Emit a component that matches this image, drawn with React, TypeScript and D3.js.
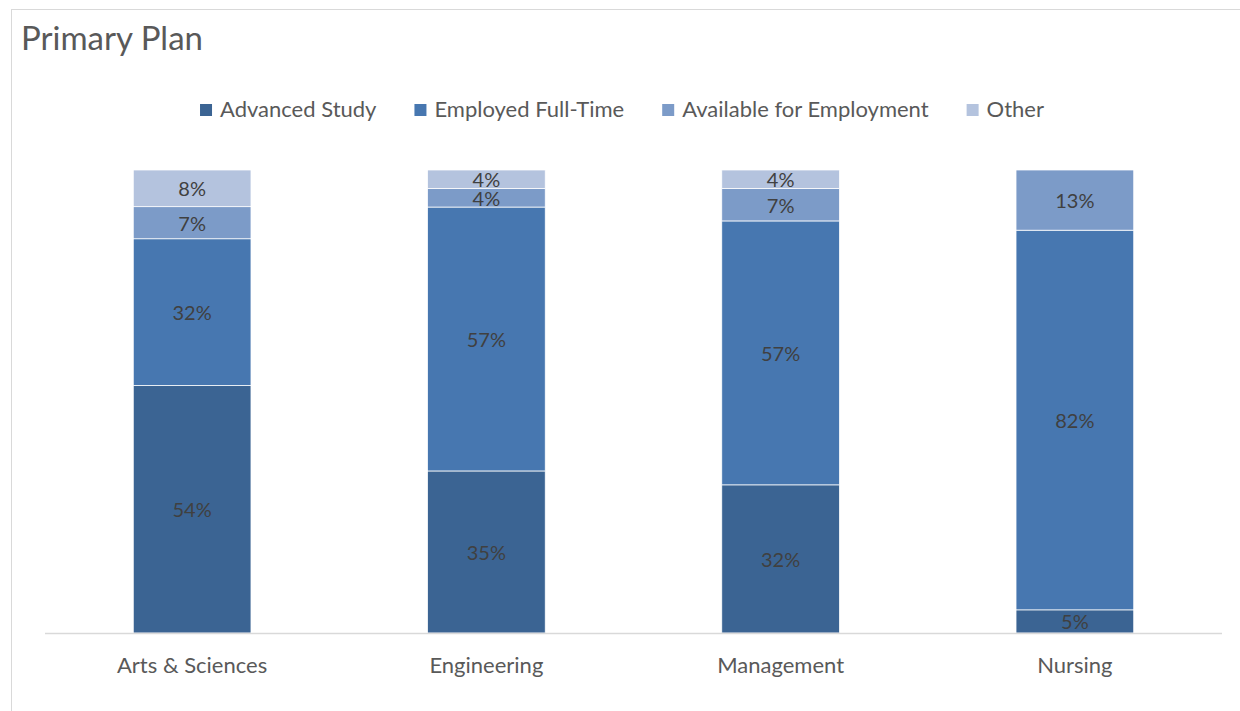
import React, { useEffect, useRef } from "react";
import * as d3 from "d3";

const categories = ["Arts & Sciences", "Engineering", "Management", "Nursing"];
const seriesNames = ["Advanced Study", "Employed Full-Time", "Available for Employment", "Other"];
const advancedStudy = [54, 35, 32, 5];
const employedFullTime = [32, 57, 57, 82];
const availableForEmployment = [7, 4, 7, 13];
const other = [8, 4, 4, 0];
const seriesColors = ["#3B6493", "#4777B0", "#7C9BC8", "#B4C3DE"];
const chartTitle = "Primary Plan";

const W = 1240;
const H = 711;
const FONT = "Lato, 'Open Sans', sans-serif";

export default function App() {
  const ref = useRef<SVGSVGElement>(null);

  useEffect(() => {
    const svg = d3.select(ref.current);
    svg.selectAll("*").remove();

    const values = [advancedStudy, employedFullTime, availableForEmployment, other];
    const rows = categories.map((c, i) => {
      const r: any = { cat: c };
      seriesNames.forEach((s, j) => (r[s] = values[j][i]));
      return r;
    });

    const stack = d3.stack<any>().keys(seriesNames).offset(d3.stackOffsetExpand);
    const stacked = stack(rows);

    const left = 45, right = 1222, top = 170, bottom = 633;
    const x = d3.scaleBand().domain(categories).range([left, right]).paddingInner(0.6).paddingOuter(0.3);
    const y = d3.scaleLinear().domain([0, 1]).range([bottom, top]);

    // frame
    svg.append("rect").attr("x", 11.5).attr("y", 9.5).attr("width", W + 20).attr("height", H + 20)
      .attr("fill", "#fff").attr("stroke", "#d9d9d9").attr("stroke-width", 1);

    // title
    svg.append("text").attr("x", 21).attr("y", 50).attr("font-family", FONT).attr("font-size", 33)
      .attr("fill", "#595959").text(chartTitle);

    // bars
    const g = svg.append("g");
    stacked.forEach((layer, j) => {
      const lg = g.append("g");
      layer.forEach((d, i) => {
        const raw = values[j][i];
        if (raw <= 0) return;
        const x0 = x(categories[i])!;
        const y0 = y(d[1]);
        const h = y(d[0]) - y(d[1]);
        lg.append("rect").attr("x", x0).attr("y", y0).attr("width", x.bandwidth()).attr("height", h)
          .attr("fill", seriesColors[j]).attr("stroke", "#fff").attr("stroke-width", 0.75);
      });
    });

    // axis line
    svg.append("line").attr("x1", left).attr("x2", right).attr("y1", bottom + 0.5).attr("y2", bottom + 0.5)
      .attr("stroke", "#d9d9d9").attr("stroke-width", 1.5);

    // data labels
    stacked.forEach((layer, j) => {
      layer.forEach((d, i) => {
        const raw = values[j][i];
        if (raw <= 0) return;
        const cx = x(categories[i])! + x.bandwidth() / 2;
        const cy = (y(d[0]) + y(d[1])) / 2;
        svg.append("text").attr("x", cx).attr("y", cy + 1).attr("dy", "0.35em").attr("text-anchor", "middle")
          .attr("font-family", FONT).attr("font-size", 20).attr("fill", "#404040").text(raw + "%");
      });
    });

    // category labels
    categories.forEach((c) => {
      svg.append("text").attr("x", x(c)! + x.bandwidth() / 2).attr("y", 673).attr("text-anchor", "middle")
        .attr("font-family", FONT).attr("font-size", 22).attr("fill", "#595959").text(c);
    });

    // legend
    const lg = svg.append("g");
    const items: { g: any; w: number }[] = [];
    seriesNames.forEach((s, j) => {
      const ig = lg.append("g");
      ig.append("rect").attr("x", 0).attr("y", -13).attr("width", 12).attr("height", 12).attr("fill", seriesColors[j]);
      const t = ig.append("text").attr("x", 20).attr("y", 0).attr("font-family", FONT).attr("font-size", 22)
        .attr("fill", "#595959").text(s);
      const tw = (t.node() as SVGTextElement).getComputedTextLength();
      items.push({ g: ig, w: 20 + tw });
    });
    const gap = 38;
    const total = items.reduce((a, b) => a + b.w, 0) + gap * (items.length - 1);
    let cur = 622 - total / 2;
    items.forEach((it) => {
      it.g.attr("transform", `translate(${cur},117)`);
      cur += it.w + gap;
    });
  }, []);

  return (
    <svg ref={ref} width={W} height={H} style={{ position: "absolute", left: 0, top: 0, background: "#fff" }} />
  );
}
